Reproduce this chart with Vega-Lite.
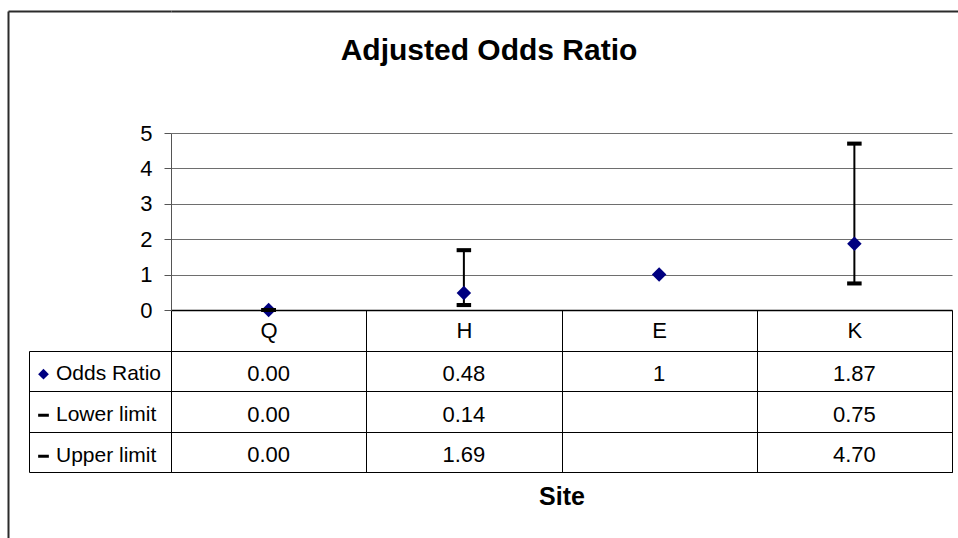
{
  "$schema": "https://vega.github.io/schema/vega-lite/v6.json",
  "padding": {"left": 8, "top": 11, "right": 0, "bottom": 0},
  "background": "white",
  "config": {
    "font": "Liberation Sans",
    "view": {"stroke": null},
    "axis": {"labelFont": "Liberation Sans", "titleFont": "Liberation Sans", "labelColor": "#000", "titleColor": "#000"},
    "legend": {"labelFont": "Liberation Sans", "labelColor": "#000"}
  },
  "datasets": {
    "or": [
      {"site": "Q", "Odds Ratio": 0, "Lower limit": 0, "Upper limit": 0},
      {"site": "H", "Odds Ratio": 0.48, "Lower limit": 0.14, "Upper limit": 1.69},
      {"site": "E", "Odds Ratio": 1, "Lower limit": null, "Upper limit": null},
      {"site": "K", "Odds Ratio": 1.87, "Lower limit": 0.75, "Upper limit": 4.7}
    ]
  },
  "bounds": "flush",
  "spacing": 0,
  "resolve": {"scale": {"x": "independent", "y": "independent", "color": "independent", "shape": "independent"}, "legend": {"color": "independent", "shape": "independent"}},
  "hconcat": [
    {
      "width": 163,
      "height": 530,
      "data": {"values": [{}]},
      "mark": {"type": "point", "opacity": 0, "size": 0},
      "encoding": {
        "x": {"datum": 0, "type": "quantitative", "axis": {"orient": "top", "domain": true, "domainColor": "#2b2b2b", "domainWidth": 2, "ticks": false, "labels": false, "grid": false, "title": null}},
        "y": {"datum": 0, "type": "quantitative", "axis": {"orient": "left", "domain": true, "domainColor": "#2b2b2b", "domainWidth": 2, "ticks": false, "labels": false, "grid": false, "title": null}}
      }
    },
    {
      "bounds": "flush",
      "spacing": 41,
      "resolve": {"scale": {"x": "independent", "y": "independent", "color": "independent", "shape": "independent"}, "legend": {"color": "independent", "shape": "independent"}},
      "vconcat": [
        {
          "width": 790,
          "height": 81,
          "title": {"text": "Adjusted Odds Ratio", "fontSize": 30, "fontWeight": "bold", "color": "#000", "font": "Liberation Sans", "anchor": "middle", "offset": -55, "dx": -77},
          "data": {"values": [{}]},
          "mark": {"type": "point", "opacity": 0, "size": 0},
          "encoding": {
            "x": {"datum": 0, "type": "quantitative", "axis": {"orient": "top", "domain": true, "domainColor": "#2b2b2b", "domainWidth": 2, "ticks": false, "labels": false, "grid": false, "title": null}}
          }
        },
        {
          "width": 781,
          "height": 177,
          "data": {"name": "or"},
          "resolve": {"axis": {"y": "independent"}},
          "encoding": {
            "x": {
              "field": "site", "type": "nominal", "sort": ["Q", "H", "E", "K"],
              "scale": {"paddingInner": 0, "paddingOuter": 0},
              "axis": {"title": null, "domain": true, "domainColor": "#000", "domainWidth": 1.5, "ticks": true, "tickBand": "extent", "tickSize": 41, "tickColor": "#000", "labelFontSize": 22, "labelAngle": 0, "labelBaseline": "middle", "labelPadding": -20.7, "grid": false}
            }
          },
          "layer": [
            {
              "mark": {"type": "rule", "color": "#000", "strokeWidth": 2},
              "encoding": {
                "y": {
                  "field": "Lower limit", "type": "quantitative",
                  "scale": {"domain": [0, 5], "nice": false},
                  "axis": {"title": null, "values": [0, 1, 2, 3, 4, 5], "labelOverlap": false, "grid": true, "gridColor": "#6e6e6e", "gridWidth": 1, "gridOpacity": 1, "domain": true, "domainColor": "#555", "tickSize": 7, "tickColor": "#555", "labelFontSize": 22, "labelPadding": 12}
                },
                "y2": {"field": "Upper limit"}
              }
            },
            {
              "transform": [
                {"fold": ["Odds Ratio", "Lower limit", "Upper limit"], "as": ["series", "value"]},
                {"filter": "datum.value != null"}
              ],
              "mark": {"type": "point", "filled": true, "opacity": 1, "size": 210},
              "encoding": {
                "y": {"field": "value", "type": "quantitative", "axis": null},
                "shape": {
                  "field": "series", "type": "nominal",
                  "scale": {"domain": ["Odds Ratio", "Lower limit", "Upper limit"], "range": ["diamond", "M-1,-0.28H1V0.28H-1Z", "M-1,-0.28H1V0.28H-1Z"]},
                  "legend": {"orient": "none", "legendX": -138, "legendY": 221, "title": null, "clipHeight": 40.33, "rowPadding": 0, "padding": 0, "labelFontSize": 21, "labelOffset": 2, "symbolSize": 115}
                },
                "color": {
                  "field": "series", "type": "nominal",
                  "scale": {"domain": ["Odds Ratio", "Lower limit", "Upper limit"], "range": ["#000080", "#000000", "#000000"]},
                  "legend": {"orient": "none", "legendX": -138, "legendY": 221, "title": null, "clipHeight": 40.33, "rowPadding": 0, "padding": 0, "labelFontSize": 21, "labelOffset": 2, "symbolSize": 115}
                }
              }
            }
          ]
        },
        {
          "width": 781,
          "height": 121,
          "data": {"name": "or"},
          "view": {"stroke": "#000", "strokeWidth": 1},
          "transform": [
            {"fold": ["Odds Ratio", "Lower limit", "Upper limit"], "as": ["series", "value"]},
            {"filter": "datum.value != null"}
          ],
          "encoding": {
            "x": {
              "field": "site", "type": "nominal", "sort": ["Q", "H", "E", "K"],
              "scale": {"paddingInner": 0, "paddingOuter": 0},
              "axis": {"grid": true, "gridColor": "#000", "gridWidth": 1, "gridOpacity": 1, "tickBand": "extent", "labels": false, "ticks": false, "domain": false, "title": "Site", "titleFontSize": 25, "titleFontWeight": "bold", "titlePadding": 12}
            },
            "y": {
              "field": "series", "type": "nominal",
              "scale": {"domain": ["Odds Ratio", "Lower limit", "Upper limit"], "paddingInner": 0, "paddingOuter": 0},
              "axis": {"orient": "left", "offset": 142, "domain": true, "domainColor": "#000", "ticks": true, "tickSize": -142, "tickColor": "#000", "tickBand": "extent", "labels": false, "grid": true, "gridColor": "#000", "gridOpacity": 1, "title": null}
            }
          },
          "layer": [
            {
              "transform": [{"filter": "datum.site !== 'E'"}],
              "mark": {"type": "text", "fontSize": 22, "font": "Liberation Sans", "color": "#000", "baseline": "middle", "dy": 3},
              "encoding": {"text": {"field": "value", "type": "quantitative", "format": ".2f"}}
            },
            {
              "transform": [{"filter": "datum.site === 'E'"}],
              "mark": {"type": "text", "fontSize": 22, "font": "Liberation Sans", "color": "#000", "baseline": "middle", "dy": 3},
              "encoding": {"text": {"field": "value", "type": "quantitative", "format": "d"}}
            }
          ]
        }
      ]
    }
  ]
}
